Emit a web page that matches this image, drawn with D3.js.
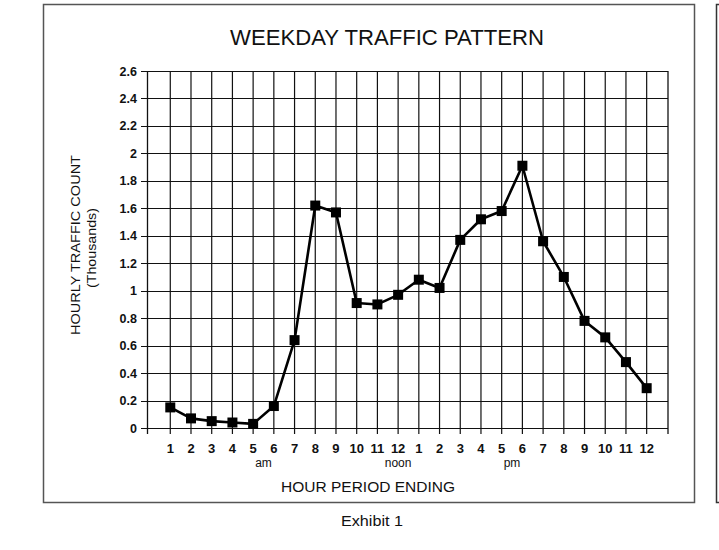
<!DOCTYPE html>
<html><head><meta charset="utf-8">
<script src="https://cdn.jsdelivr.net/npm/d3@7/dist/d3.min.js"></script>
<style>body{margin:0;background:#fff}svg{display:block}</style>
</head><body><svg id="c" width="719" height="550"></svg>
<script>
// ---- data ----
const hours = d3.range(1, 25);
const hourLabels = ["1","2","3","4","5","6","7","8","9","10","11","12","1","2","3","4","5","6","7","8","9","10","11","12"];
const traffic = [0.15,0.07,0.05,0.04,0.03,0.16,0.64,1.62,1.57,0.91,0.90,0.97,1.08,1.02,1.37,1.52,1.58,1.91,1.36,1.10,0.78,0.66,0.48,0.29];
const yTicks = [0,0.2,0.4,0.6,0.8,1,1.2,1.4,1.6,1.8,2,2.2,2.4,2.6];
const yTickLabels = ["0","0.2","0.4","0.6","0.8","1","1.2","1.4","1.6","1.8","2","2.2","2.4","2.6"];
const periodNames = ["am","noon","pm"];
const periodHours = [5.5,12,17.5];
const title = "WEEKDAY TRAFFIC PATTERN";
const yTitle1 = "HOURLY TRAFFIC COUNT";
const yTitle2 = "(Thousands)";
const xTitle = "HOUR PERIOD ENDING";
const caption = "Exhibit 1";

// ---- drawing ----
const svg = d3.select("#c");
const font = "Liberation Sans, Arial, Helvetica, sans-serif";
svg.append("rect").attr("width",719).attr("height",550).attr("fill","#fff");

// frames
svg.append("rect").attr("x",43.5).attr("y",4.5).attr("width",651).attr("height",498)
  .attr("fill","none").attr("stroke","#555").attr("stroke-width",1.5);
svg.append("path").attr("d","M719,4.5 H716.5 V502.5 H719")
  .attr("fill","none").attr("stroke","#333").attr("stroke-width",1.5);

const x = d3.scaleLinear().domain([-0.1, 25.03]).range([147.5, 668]);
const y = d3.scaleLinear().domain([0, 2.6]).range([428, 71]);
const yBottom = 434;

const g = svg.append("g");
// horizontal grid + left ticks
g.selectAll("line.h").data(yTicks).join("line").attr("class","h")
  .attr("x1",141).attr("x2",x.range()[1])
  .attr("y1",d=>Math.round(y(d))+0.5).attr("y2",d=>Math.round(y(d))+0.5)
  .attr("stroke","#111").attr("stroke-width",1.2);
// vertical grid (hours) extending below axis as ticks
g.selectAll("line.v").data(hours).join("line").attr("class","v")
  .attr("x1",d=>x(d)).attr("x2",d=>x(d))
  .attr("y1",y(2.6)).attr("y2",yBottom)
  .attr("stroke","#111").attr("stroke-width",1.2);
// plot edges
g.selectAll("line.e").data(x.range()).join("line").attr("class","e")
  .attr("x1",d=>d).attr("x2",d=>d).attr("y1",y(2.6)).attr("y2",yBottom)
  .attr("stroke","#111").attr("stroke-width",1.3);

// y tick labels
g.selectAll("text.yt").data(yTicks).join("text").attr("class","yt")
  .attr("x",137).attr("y",d=>y(d)).attr("dy","0.36em")
  .attr("text-anchor","end").attr("font-family",font).attr("font-weight","bold")
  .attr("font-size",12.5).attr("fill","#111")
  .text((d,i)=>yTickLabels[i]);

// x tick labels
g.selectAll("text.xt").data(hours).join("text").attr("class","xt")
  .attr("x",d=>x(d)).attr("y",453)
  .attr("text-anchor","middle").attr("font-family",font).attr("font-weight","bold")
  .attr("font-size",13).attr("fill","#111")
  .text((d,i)=>hourLabels[i]);

// period labels
g.selectAll("text.pl").data(periodHours).join("text").attr("class","pl")
  .attr("x",d=>x(d)).attr("y",467)
  .attr("text-anchor","middle").attr("font-family",font)
  .attr("font-size",12).attr("fill","#111")
  .text((d,i)=>periodNames[i]);

// line + markers
const line = d3.line().x((d,i)=>x(hours[i])).y(d=>y(d));
svg.append("path").datum(traffic).attr("d",line)
  .attr("fill","none").attr("stroke","#000").attr("stroke-width",2.6).attr("stroke-linejoin","round");
svg.selectAll("rect.m").data(traffic).join("rect").attr("class","m")
  .attr("x",(d,i)=>x(hours[i])-5).attr("y",d=>y(d)-5)
  .attr("width",10).attr("height",10).attr("fill","#000");

// titles
svg.append("text").attr("x",387).attr("y",45).attr("text-anchor","middle")
  .attr("font-family",font).attr("font-size",22).attr("fill","#111")
  .attr("textLength",314).attr("lengthAdjust","spacingAndGlyphs").text(title);
svg.append("text").attr("transform","translate(80,245) rotate(-90)").attr("text-anchor","middle")
  .attr("font-family",font).attr("font-size",12.5).attr("fill","#111")
  .attr("textLength",180).attr("lengthAdjust","spacingAndGlyphs").text(yTitle1);
svg.append("text").attr("transform","translate(96,248) rotate(-90)").attr("text-anchor","middle")
  .attr("font-family",font).attr("font-size",12.5).attr("fill","#111")
  .attr("textLength",80).attr("lengthAdjust","spacingAndGlyphs").text(yTitle2);
svg.append("text").attr("x",368).attr("y",492).attr("text-anchor","middle")
  .attr("font-family",font).attr("font-size",15.5).attr("fill","#111")
  .attr("textLength",174).attr("lengthAdjust","spacingAndGlyphs").text(xTitle);
svg.append("text").attr("x",372).attr("y",526).attr("text-anchor","middle")
  .attr("font-family",font).attr("font-size",15).attr("fill","#111")
  .attr("textLength",62).attr("lengthAdjust","spacingAndGlyphs").text(caption);
</script>
</body></html>
